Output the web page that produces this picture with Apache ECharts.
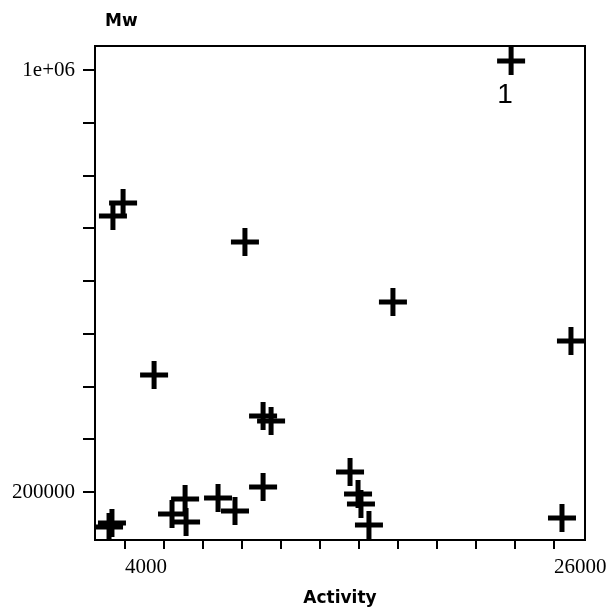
<!DOCTYPE html>
<html>
<head>
<meta charset="utf-8">
<script src="https://cdn.jsdelivr.net/npm/echarts@6/dist/echarts.min.js"></script>
<style>
  html, body { margin: 0; padding: 0; background: #fff; }
  #main { width: 612px; height: 610px; }
</style>
</head>
<body>
<div id="main"></div>
<script>
// Activity vs Mw, one point per sample
var activity = [23800, 3380, 3900, 10150, 17740, 26870, 5490, 11080, 11490, 11080,
                15540, 15950, 16100, 16510, 26410, 3180, 3330, 6410, 7080, 7130, 8770, 9640];
var mw = [1017000, 723200, 747900, 673900, 560200, 486300, 421800, 344100, 334600, 209500,
          237900, 196200, 177300, 137400, 150700, 133700, 141200, 158300, 186700, 143100, 188600, 164000];
var pointNames = ['1', '', '', '', '', '', '', '', '', '', '', '', '', '', '', '', '', '', '', '', '', ''];

var xTicks = [4000, 6000, 8000, 10000, 12000, 14000, 16000, 18000, 20000, 22000, 24000, 26000];
var xLabels = [4000, 26000];
var yTicks = [200000, 300000, 400000, 500000, 600000, 700000, 800000, 900000, 1000000];
var yLabels = [200000, 1000000];

var points = activity.map(function (a, i) {
    return { value: [a, mw[i]], name: pointNames[i] };
});

var plus = 'path://M11.5,0 H16.5 V11.5 H28 V16.5 H16.5 V28 H11.5 V16.5 H0 V11.5 H11.5 Z';

var myChart = echarts.init(document.getElementById('main'));
var option = {
    animation: false,
    backgroundColor: '#fff',
    grid: {
        left: 95, right: 27, top: 46, bottom: 70,
        outerBoundsMode: 'none',
        show: true,
        borderColor: '#000',
        borderWidth: 2
    },
    xAxis: {
        type: 'value',
        min: 2460,
        max: 27590,
        name: 'Activity',
        nameLocation: 'middle',
        nameGap: 50,
        nameTextStyle: { fontFamily: 'DejaVu Sans', fontWeight: 'bold', fontSize: 17, color: '#000' },
        splitLine: { show: false },
        axisLine: { lineStyle: { color: '#000', width: 2 } },
        axisTick: { length: 9, lineStyle: { color: '#000', width: 2 }, customValues: xTicks },
        axisLabel: {
            customValues: xLabels,
            align: 'left',
            margin: 17,
            fontFamily: 'Liberation Serif',
            fontSize: 21,
            color: '#000',
            formatter: function (v) { return String(v); }
        }
    },
    yAxis: {
        type: 'value',
        min: 109000,
        max: 1045500,
        name: 'Mw',
        nameLocation: 'end',
        nameGap: 16,
        nameTextStyle: { fontFamily: 'DejaVu Sans', fontWeight: 'bold', fontSize: 17, color: '#000', align: 'left', padding: [0, 0, 0, 10] },
        splitLine: { show: false },
        axisLine: { lineStyle: { color: '#000', width: 2 } },
        axisTick: { length: 12, lineStyle: { color: '#000', width: 2 }, customValues: yTicks },
        axisLabel: {
            customValues: yLabels,
            margin: 20,
            fontFamily: 'Liberation Serif',
            fontSize: 21,
            color: '#000',
            formatter: function (v) { return v === 1000000 ? '1e+06' : String(v); }
        }
    },
    series: [{
        type: 'scatter',
        data: points,
        symbol: plus,
        symbolSize: 28,
        itemStyle: { color: '#000', opacity: 1 },
        emphasis: { disabled: true },
        label: {
            show: true,
            position: 'bottom',
            distance: 6,
            offset: [-6, 0],
            formatter: function (p) { return p.name; },
            fontFamily: 'Liberation Sans',
            fontSize: 28,
            color: '#000'
        }
    }]
};
myChart.setOption(option);
</script>
</body>
</html>
